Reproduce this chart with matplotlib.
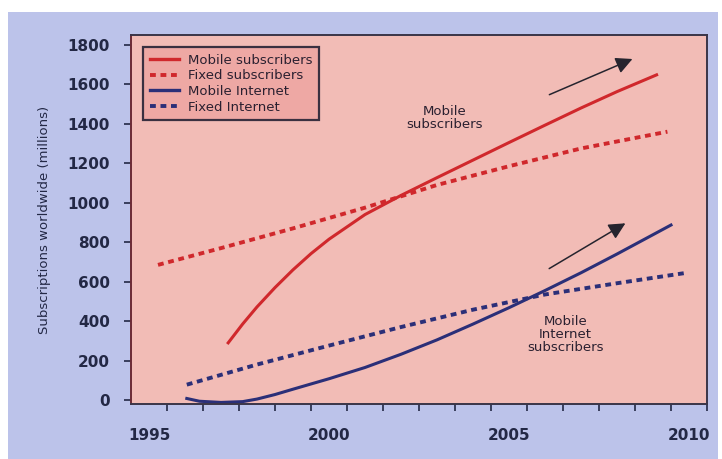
import matplotlib.pyplot as plt
from matplotlib.lines import Line2D
from matplotlib.patches import Rectangle

# values (years, millions)
mob_sub_years = [1997.2, 1997.6, 1998.0, 1998.5, 1999.0, 1999.5, 2000.0, 2001.0, 2002.0,
                 2003.0, 2004.0, 2005.0, 2006.0, 2007.0, 2008.0, 2009.1]
mob_sub_vals = [290, 385, 472, 570, 660, 742, 815, 940, 1037, 1127, 1216, 1305, 1393,
                1480, 1563, 1648]

fix_sub_years = [1995.25, 1997.0, 1999.0, 2001.0, 2003.0, 2005.0, 2007.0, 2009.4]
fix_sub_vals = [685, 770, 870, 975, 1090, 1185, 1275, 1360]

mob_int_years = [1996.05, 1996.4, 1997.0, 1997.6, 1998.0, 1998.5, 1999.0, 2000.0,
                 2001.0, 2002.0, 2003.0, 2004.0, 2005.0, 2006.0, 2007.0, 2008.0, 2009.5]
mob_int_vals = [8, -6, -12, -8, 5, 28, 55, 108, 165, 232, 305, 385, 468, 555, 645, 740, 887]

fix_int_years = [1996.05, 1998.0, 2000.0, 2002.0, 2004.0, 2006.0, 2008.0, 2009.9]
fix_int_vals = [78, 180, 276, 370, 458, 535, 592, 644]

legend_labels = ['Mobile subscribers', 'Fixed subscribers', 'Mobile Internet', 'Fixed Internet']
year_labels = [1995, 2000, 2005, 2010]
y_ticks = list(range(0, 1801, 200))

red = '#d0282c'
navy = '#2b2f78'
ink = '#232845'
dash = (0, (1.5, 1.2))

fig = plt.figure(figsize=(7.22, 4.59), dpi=100, facecolor='white')
fig.patches.append(Rectangle((8 / 722, 0), 710 / 722, 1 - 12 / 459,
                             transform=fig.transFigure, facecolor='#bcc3ea',
                             edgecolor='none', zorder=-10))

ax = fig.add_axes([131 / 722, 55 / 459, 576 / 722, 369 / 459])
ax.set_facecolor('#f2bcb6')

ax.plot(fix_sub_years, fix_sub_vals, color=red, lw=2.8, linestyle=dash)
ax.plot(mob_sub_years, mob_sub_vals, color=red, lw=2.2)
ax.plot(fix_int_years, fix_int_vals, color=navy, lw=2.8, linestyle=dash)
ax.plot(mob_int_years, mob_int_vals, color=navy, lw=2.2)

ax.set_xlim(1994.5, 2010.5)
ax.set_ylim(-20, 1850)

ax.set_xticks(year_labels)
ax.set_xticklabels([str(y) for y in year_labels])
ax.set_xticks([y + 0.5 for y in range(1995, 2011)], minor=True)
ax.tick_params(axis='x', which='major', length=0, pad=17, labelsize=11, labelcolor=ink)
ax.tick_params(axis='x', which='minor', length=5, width=1.2, color=ink, direction='out')
ax.set_yticks(y_ticks)
ax.tick_params(axis='y', length=5, width=1.2, color=ink, pad=10, labelsize=11, labelcolor=ink)
for lab in ax.get_xticklabels() + ax.get_yticklabels():
    lab.set_fontweight('bold')

for side in ['top', 'right', 'bottom']:
    ax.spines[side].set_color('#3a3548')
    ax.spines[side].set_linewidth(1.4)
ax.spines['left'].set_color('#6b2a35')
ax.spines['left'].set_linewidth(1.4)

fig.text(45 / 722, 1 - 220 / 459, 'Subscriptions worldwide (millions)', rotation=90,
         ha='center', va='center', fontsize=9.5, color=ink)

# trend arrows
for tail, tip in [((2006.05, 1542), (2008.5, 1734)), ((2006.05, 659), (2008.3, 903))]:
    ax.annotate('', xy=tip, xytext=tail,
                arrowprops=dict(arrowstyle='-|>,head_length=1.0,head_width=0.5',
                                color='#26242e', lw=1.1))

ax.text(2003.2, 1430, 'Mobile\nsubscribers', ha='center', va='center',
        fontsize=9.5, color='#2a2030', linespacing=1.0)
ax.text(2006.56, 330, 'Mobile\nInternet\nsubscribers', ha='center', va='center',
        fontsize=9.5, color='#2a2030', linespacing=1.0)

handles = [
    Line2D([], [], color=red, lw=2.4),
    Line2D([], [], color=red, lw=2.8, linestyle=dash),
    Line2D([], [], color=navy, lw=2.4),
    Line2D([], [], color=navy, lw=2.8, linestyle=dash),
]
leg = ax.legend(handles, legend_labels, loc='upper left', bbox_to_anchor=(0.0208, 0.9675),
                borderaxespad=0, fancybox=False, fontsize=9.5, handlelength=2.2,
                labelspacing=0.2, borderpad=0.5, handletextpad=0.7,
                facecolor='#eea8a4', edgecolor='#3a3040', framealpha=1)
leg.get_frame().set_linewidth(1.6)
for t in leg.get_texts():
    t.set_color('#2a2030')

fig.savefig('out.png', dpi=100, facecolor=fig.get_facecolor())
